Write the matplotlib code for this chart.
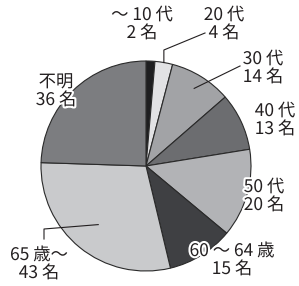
import numpy as np
import matplotlib
matplotlib.use("Agg")
import matplotlib.pyplot as plt
import matplotlib.patheffects as pe

plt.rcParams['font.family'] = ['Noto Sans CJK JP', 'DejaVu Sans']

categories = ["～ 10 代", "20 代", "30 代", "40 代", "50 代", "60 ～ 64 歳", "65 歳～", "不明"]
values = [2, 4, 14, 13, 20, 15, 43, 36]
colors = ["#1e1e20", "#e2e2e4", "#a2a3a6", "#6c6d70", "#b2b3b6", "#3f4043", "#c9cacc", "#7c7d80"]

W, H = 299, 286
fig = plt.figure(figsize=(W / 100, H / 100), dpi=100)
ax = fig.add_axes([0, 0, 1, 1])

cx, cy, R = 146, 120, 105
wedges, _ = ax.pie(values, colors=colors, startangle=90, counterclock=False,
                   center=(cx, cy), radius=R, frame=True,
                   wedgeprops=dict(edgecolor="#2a2a2a", linewidth=0.8))
ax.set_xlim(0, W)
ax.set_ylim(0, H)
ax.set_aspect('equal')
ax.axis('off')

# label positions (pixel coords from top)
label_pos = [(142, 24), (224, 24), (263, 68), (275, 120), (264, 196), (232, 260), (39, 264), (56, 91)]
stroke = [pe.withStroke(linewidth=3, foreground="white")]
for cat, v, (lx, ly) in zip(categories, values, label_pos):
    ax.text(lx, H - ly, f"{cat}\n{v} 名", ha="center", va="center", fontsize=12.5,
            color="#231f20", linespacing=1.0, path_effects=stroke)

# leader lines computed from wedge mid-angles
total = sum(values)
cum = np.cumsum([0] + values)
def mid_point(i, frac):
    ang = np.deg2rad(90 - (cum[i] + values[i] / 2) / total * 360)
    return cx + frac * R * np.cos(ang), cy + frac * R * np.sin(ang)

lc = dict(color="#231f20", linewidth=0.8)
x0, y0 = mid_point(1, 1.0)
ax.plot([x0, x0, 205], [y0, H - 50, H - 33], **lc)
x0, y0 = mid_point(2, 0.87)
ax.plot([x0, 240], [y0, H - 66], **lc)
x0, y0 = mid_point(6, 0.72)
ax.plot([x0, 44, 44], [y0, H - 229, H - 239], **lc)

fig.savefig("out.png", dpi=100)
